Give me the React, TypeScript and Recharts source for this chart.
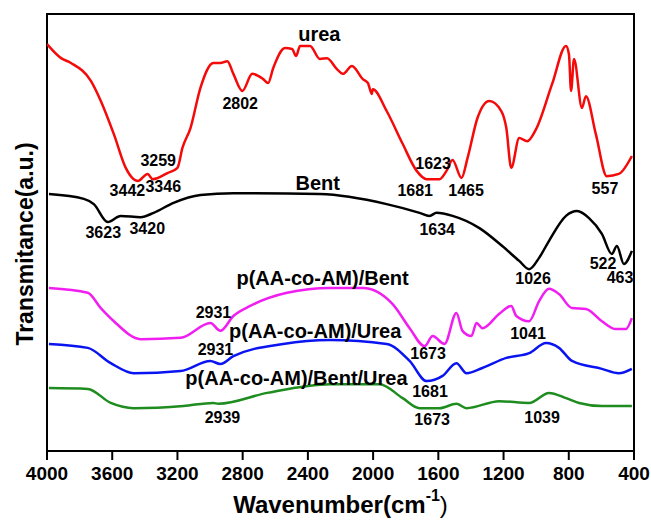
import React from 'react';
import { LineChart, Line, XAxis, YAxis, ReferenceArea, ReferenceDot, Label } from 'recharts';

// [wavenumber (cm-1), transmittance (a.u.)]
const urea: number[][] = [
  [4000, 93.1], [3914, 89.9], [3853, 88.8], [3731, 84.7], [3670, 80.1], [3590, 72.5],
  [3517, 64.8], [3468, 62.2], [3442, 61.8], [3383, 63.4], [3352, 62.2], [3261, 63.6],
  [3200, 64.8], [3169, 69.4], [3120, 73.9], [3059, 83.1], [2980, 88.8], [2937, 88.8],
  [2894, 89.2], [2857, 86.3], [2802, 82.4], [2741, 86.3], [2674, 85.1], [2644, 84.2],
  [2613, 87.6], [2540, 92.2], [2497, 92.0], [2472, 90.4], [2448, 92.7], [2387, 92.7],
  [2326, 89.7], [2283, 89.9], [2222, 87.4], [2185, 86.3], [2130, 88.1], [2063, 85.1],
  [2032, 84.2], [2008, 81.7], [2002, 82.8], [1917, 77.8], [1819, 70.3], [1733, 64.1],
  [1672, 62.2], [1593, 62.2], [1550, 64.1], [1513, 66.6], [1458, 62.5], [1421, 67.0],
  [1360, 76.2], [1287, 80.1], [1214, 77.8], [1183, 73.9], [1153, 64.8], [1104, 71.6],
  [1055, 70.9], [1000, 73.7], [902, 84.0], [817, 92.7], [799, 90.8], [786, 82.4],
  [768, 89.7], [719, 78.5], [695, 81.2], [634, 72.5], [567, 62.9], [493, 63.4], [413, 67.5],
];

const bent: number[][] = [
  [3988, 58.8], [3774, 57.7], [3713, 56.5], [3627, 52.4], [3548, 53.8], [3426, 53.5],
  [3346, 54.5], [3224, 56.8], [3059, 58.6], [2857, 59.0], [2326, 58.8], [1917, 56.5],
  [1715, 54.5], [1654, 53.8], [1611, 54.5], [1513, 53.8], [1348, 51.0], [1208, 46.9],
  [1104, 43.5], [1043, 41.6], [982, 44.2], [921, 48.1], [817, 53.8], [749, 54.9],
  [676, 53.3], [597, 49.7], [536, 45.1], [505, 46.9], [462, 42.8], [413, 45.8],
];

const aaBent: number[][] = [
  [3988, 37.3], [3750, 36.2], [3670, 32.7], [3590, 29.7], [3426, 25.6], [3181, 25.9],
  [2998, 29.3], [2937, 27.5], [2857, 30.9], [2754, 33.2], [2528, 36.2], [2265, 37.3],
  [2063, 37.3], [1880, 33.6], [1776, 28.1], [1684, 24.0], [1635, 26.3], [1562, 24.5],
  [1489, 31.6], [1452, 27.5], [1397, 26.3], [1366, 29.3], [1330, 28.1], [1226, 31.4],
  [1153, 33.2], [1122, 30.9], [1043, 29.7], [982, 34.3], [921, 37.1], [860, 35.9],
  [780, 32.7], [695, 32.5], [597, 29.7], [511, 27.9], [450, 27.9], [413, 30.4],
];

const aaUrea: number[][] = [
  [3988, 24.5], [3750, 23.6], [3609, 20.1], [3468, 17.8], [3181, 18.3], [2998, 20.6],
  [2937, 19.9], [2857, 21.7], [2552, 24.5], [2265, 25.4], [1917, 24.5], [1776, 20.6],
  [1672, 16.0], [1574, 17.2], [1489, 20.1], [1427, 17.8], [1330, 19.0], [1183, 21.3],
  [1043, 22.4], [939, 24.7], [860, 23.6], [780, 20.6], [597, 18.8], [493, 17.8], [413, 18.8],
];

const aaBentUrea: number[][] = [
  [3988, 14.4], [3750, 14.2], [3609, 11.0], [3468, 9.8], [3163, 10.3], [2980, 11.0],
  [2949, 10.8], [2650, 13.3], [2265, 15.3], [1960, 15.3], [1819, 12.1], [1715, 9.8],
  [1593, 9.8], [1489, 10.8], [1427, 9.8], [1226, 11.4], [1043, 11.0], [921, 13.3],
  [817, 12.1], [737, 11.0], [597, 10.3], [413, 10.3],
];

const xTicks = [4000, 3600, 3200, 2800, 2400, 2000, 1600, 1200, 800, 400];

// series names, placed at [wavenumber, transmittance]
const seriesLabels: [string, number, number][] = [
  ['urea', 2330, 95.4],
  ['Bent', 2340, 61.3],
  ['p(AA-co-AM)/Bent', 2310, 39.6],
  ['p(AA-co-AM)/Urea', 2355, 27.5],
  ['p(AA-co-AM)/Bent/Urea', 2470, 16.7],
];

// peak annotations
const peakLabels: [string, number, number][] = [
  ['3259', 3318, 66.4], ['3442', 3507, 59.5], ['3346', 3287, 60.6], ['2802', 2815, 79.6],
  ['1623', 1632, 65.7], ['1681', 1742, 59.5], ['1465', 1430, 59.5], ['557', 578, 60.0],
  ['3623', 3655, 49.9], ['3420', 3385, 51.0], ['1634', 1607, 50.6], ['1026', 1019, 39.4],
  ['522', 590, 43.0], ['463', 486, 39.6],
  ['2931', 2979, 31.6], ['1673', 1663, 22.2], ['1041', 1050, 26.8],
  ['2931', 2967, 23.3], ['1681', 1651, 13.7],
  ['2939', 2924, 7.6], ['1673', 1638, 7.1], ['1039', 964, 7.6],
];

const toRows = (pts: number[][]) => pts.map(([wn, t]) => ({ wn, t }));

const series = [
  { name: 'urea', pts: urea, color: '#f50a0a' },
  { name: 'Bent', pts: bent, color: '#000000' },
  { name: 'p(AA-co-AM)/Bent', pts: aaBent, color: '#f01ef0' },
  { name: 'p(AA-co-AM)/Urea', pts: aaUrea, color: '#0a14f0' },
  { name: 'p(AA-co-AM)/Bent/Urea', pts: aaBentUrea, color: '#1e8c1e' },
];

const FONT = 'Arial, "Liberation Sans", Helvetica, sans-serif';

const textShape = (text: string, size: number, weight: number | string) => (props: any) => (
  <text
    x={props.cx}
    y={props.cy}
    textAnchor="middle"
    dominantBaseline="central"
    fontFamily={FONT}
    fontSize={size}
    fontWeight={weight}
    fill="#000"
  >
    {text}
  </text>
);

export default function App() {
  return (
    <div style={{ position: 'absolute', left: 0, top: 0, background: '#fff' }}>
      <LineChart width={651} height={520} margin={{ top: 14, right: 17, left: 7, bottom: 9 }}>
        <XAxis
          dataKey="wn"
          type="number"
          domain={[400, 4000]}
          reversed
          ticks={xTicks}
          interval={0}
          allowDataOverflow
          height={60}
          tickSize={9}
          axisLine={{ stroke: '#000', strokeWidth: 2 }}
          tickLine={{ stroke: '#000', strokeWidth: 2 }}
          tick={{ fill: '#000', fontSize: 19, fontWeight: 700, fontFamily: FONT, dy: 5 }}
        >
          <Label
            content={({ viewBox }: any) => (
              <text
                x={viewBox.x + viewBox.width / 2}
                y={504}
                textAnchor="middle"
                dominantBaseline="central"
                fontFamily={FONT}
                fontSize={24}
                fontWeight={700}
                fill="#000"
              >
                Wavenumber(cm
                <tspan dy={-9} fontSize={16}>-1</tspan>
                <tspan dy={9} fontWeight={400}>)</tspan>
              </text>
            )}
          />
        </XAxis>
        <YAxis
          type="number"
          domain={[0, 100]}
          width={40}
          tick={false}
          tickLine={false}
          axisLine={false}
        >
          <Label
            content={() => (
              <text
                x={25}
                y={244}
                transform="rotate(-90 25 244)"
                textAnchor="middle"
                dominantBaseline="central"
                fontFamily={FONT}
                fontSize={23}
                fontWeight={700}
                fill="#000"
              >
                Transmitance(a.u.)
              </text>
            )}
          />
        </YAxis>
        {series.map(s => (
          <Line
            key={s.name}
            data={toRows(s.pts)}
            dataKey="t"
            name={s.name}
            type="monotone"
            stroke={s.color}
            strokeWidth={2.5}
            dot={false}
            activeDot={false}
            isAnimationActive={false}
          />
        ))}
        <ReferenceArea x1={4000} x2={400} y1={0} y2={100} fill="none" stroke="#000" strokeWidth={2} />
        {seriesLabels.map(([text, wn, t]) => (
          <ReferenceDot key={text} x={wn} y={t} r={0} shape={textShape(text, 20, 700)} />
        ))}
        {peakLabels.map(([text, wn, t], i) => (
          <ReferenceDot key={i} x={wn} y={t} r={0} shape={textShape(text, 16, 700)} />
        ))}
      </LineChart>
    </div>
  );
}
